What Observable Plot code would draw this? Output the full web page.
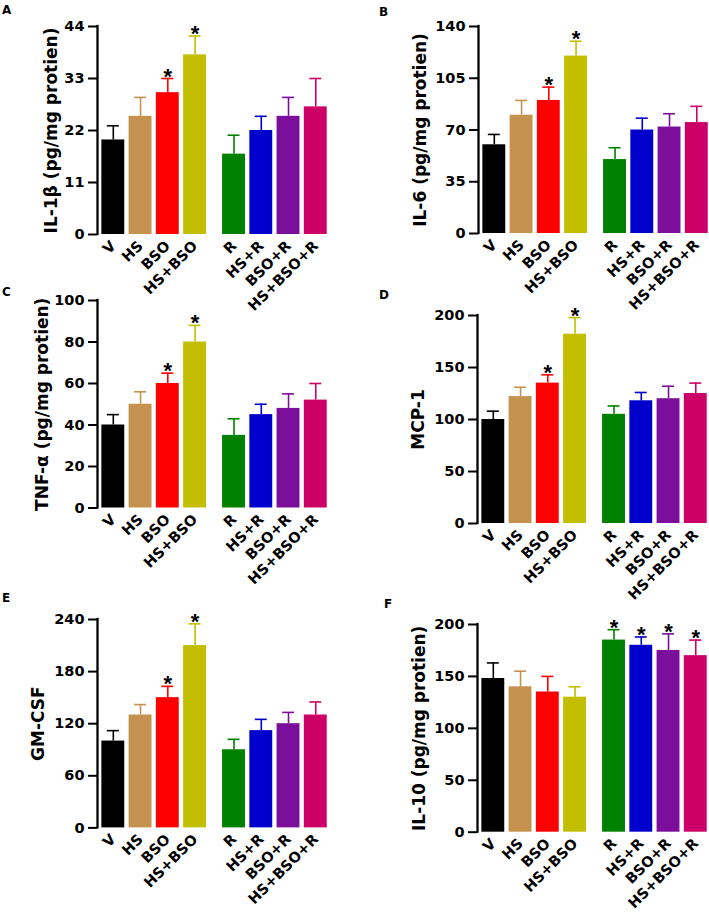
<!DOCTYPE html>
<html>
<head>
<meta charset="utf-8">
<script src="https://cdn.jsdelivr.net/npm/d3@7"></script>
<script src="https://cdn.jsdelivr.net/npm/@observablehq/plot@0.6"></script>
<style>
  body { margin: 0; background: #fff; font-family: "Liberation Sans", Arial, sans-serif; }
  #fig { position: relative; width: 709px; height: 918px; overflow: hidden; background: #fff; }
  .panel { position: absolute; }
  .letter { position: absolute; font-weight: bold; font-size: 12px; line-height: 12px; color: #000; font-family: "DejaVu Sans", sans-serif; }
</style>
</head>
<body>
<div id="fig"></div>
<script>
// ---------- data ----------
const groups = ["V", "HS", "BSO", "HS+BSO", "R", "HS+R", "BSO+R", "HS+BSO+R"];
const colors = ["#000000", "#C4914F", "#FF0000", "#C2BE00", "#008000", "#0000CC", "#7B0E9A", "#CC0066"];

const il1bMean = [20, 25, 30, 38, 17, 22, 25, 27];
const il1bErr  = [3, 4, 3, 4, 4, 3, 4, 6];
const il1bTicks = [0, 11, 22, 33, 44];

const il6Mean = [60, 80, 90, 120, 50, 70, 72, 75];
const il6Err  = [7, 10, 9, 10, 8, 8, 9, 11];
const il6Ticks = [0, 35, 70, 105, 140];

const tnfMean = [40, 50, 60, 80, 35, 45, 48, 52];
const tnfErr  = [5, 6, 5, 8, 8, 5, 7, 8];
const tnfTicks = [0, 20, 40, 60, 80, 100];

const mcpMean = [100, 122, 135, 182, 105, 118, 120, 125];
const mcpErr  = [8, 9, 8, 16, 8, 8, 12, 10];
const mcpTicks = [0, 50, 100, 150, 200];

const gmMean = [100, 130, 150, 210, 90, 112, 120, 130];
const gmErr  = [12, 12, 13, 25, 12, 13, 13, 15];
const gmTicks = [0, 60, 120, 180, 240];

const il10Mean = [148, 140, 135, 130, 185, 180, 175, 170];
const il10Err  = [15, 15, 15, 10, 10, 8, 16, 15];
const il10Ticks = [0, 50, 100, 150, 200];

const sigStress = [false, false, true, true, false, false, false, false];
const sigRescue = [false, false, false, false, true, true, true, true];

const titles = {
  A: "IL-1\u03B2 (pg/mg protien)",
  B: "IL-6 (pg/mg protien)",
  C: "TNF-\u03B1 (pg/mg protien)",
  D: "MCP-1",
  E: "GM-CSF",
  F: "IL-10 (pg/mg protien)"
};

// ---------- layout (styling only) ----------
const GAP = 0.43;          // extra spacing between the two groups, in bar steps
const HALF = 0.42;         // half bar width, in bar steps
const CAP = 0.22;          // half error-cap width
const X_DOMAIN = [-0.58, 7.86];
const PW = 230;            // plot-area width
const W = 354;
const MT = 26, MB = 74;
const FONT = "'DejaVu Sans', 'Liberation Sans', Arial, sans-serif";

const panels = [
  {id: "A", mean: il1bMean, err: il1bErr, ticks: il1bTicks, sig: sigStress, left: 0,   axisX: 97,  yTop: 26,    yZero: 234,   titleX: 56,  lx: 2,   ly: 4},
  {id: "B", mean: il6Mean,  err: il6Err,  ticks: il6Ticks,  sig: sigStress, left: 354, axisX: 478, yTop: 26,    yZero: 233,   titleX: 425, lx: 379, ly: 6},
  {id: "C", mean: tnfMean,  err: tnfErr,  ticks: tnfTicks,  sig: sigStress, left: 0,   axisX: 97,  yTop: 299.5, yZero: 507,   titleX: 47,  lx: 2,   ly: 286},
  {id: "D", mean: mcpMean,  err: mcpErr,  ticks: mcpTicks,  sig: sigStress, left: 354, axisX: 477, yTop: 315.3, yZero: 523.3, titleX: 423, lx: 379, ly: 289},
  {id: "E", mean: gmMean,   err: gmErr,   ticks: gmTicks,   sig: sigStress, left: 0,   axisX: 97,  yTop: 619.3, yZero: 827.7, titleX: 43,  lx: 2,   ly: 592},
  {id: "F", mean: il10Mean, err: il10Err, ticks: il10Ticks, sig: sigRescue, left: 354, axisX: 477, yTop: 624.3, yZero: 832,   titleX: 424, lx: 384, ly: 598}
];

const fig = document.getElementById("fig");

for (const p of panels) {
  const rows = groups.map((g, i) => ({
    label: g,
    pos: i + (i >= 4 ? GAP : 0),
    value: p.mean[i],
    top: p.mean[i] + p.err[i],
    color: colors[i],
    sig: p.sig[i]
  }));
  const plotH = p.yZero - p.yTop;
  const ml = p.axisX - p.left;
  const chart = Plot.plot({
    width: W,
    height: MT + plotH + MB,
    marginLeft: ml,
    marginRight: Math.max(0, W - ml - PW),
    marginTop: MT,
    marginBottom: MB,
    style: {fontFamily: FONT, overflow: "visible", background: "transparent", color: "#000"},
    x: {type: "linear", domain: X_DOMAIN, axis: null},
    y: {domain: [0, p.ticks[p.ticks.length - 1]]},
    color: {type: "identity"},
    marks: [
      Plot.rect(rows, {x1: d => d.pos - HALF, x2: d => d.pos + HALF, y1: 0, y2: "value", fill: "color"}),
      Plot.ruleX(rows, {x: "pos", y1: "value", y2: "top", stroke: "color", strokeWidth: 1.6}),
      Plot.ruleY(rows, {y: "top", x1: d => d.pos - CAP, x2: d => d.pos + CAP, stroke: "color", strokeWidth: 1.6}),
      Plot.text(rows.filter(d => d.sig), {x: "pos", y: "top", text: () => "*", fontSize: 22, fontWeight: "bold", fontFamily: "'Liberation Sans', Arial, sans-serif", lineAnchor: "bottom", dy: 5, fill: "#000"}),
      Plot.axisY({ticks: p.ticks, tickSize: 9, tickPadding: 4, fontSize: 14.5, fontWeight: "bold", strokeWidth: 2, label: null, tickFormat: d => String(d)}),
      Plot.ruleX([X_DOMAIN[0]], {strokeWidth: 2.3, strokeLinecap: "square"}),
      Plot.text(rows, {x: "pos", y: 0, text: "label", rotate: -45, textAnchor: "end", lineAnchor: "middle", dy: 9, fontSize: 14.5, fontWeight: "bold", fill: "#000"}),
      Plot.text([titles[p.id]], {text: d => d, frameAnchor: "left", rotate: -90, textAnchor: "middle", lineAnchor: "bottom", dx: p.titleX - p.axisX, fontSize: 17, fontWeight: "bold", fill: "#000"})
    ]
  });
  chart.classList.add("panel");
  chart.style.left = p.left + "px";
  chart.style.top = (p.yTop - MT) + "px";
  fig.appendChild(chart);

  const letter = document.createElement("div");
  letter.className = "letter";
  letter.textContent = p.id;
  letter.style.left = p.lx + "px";
  letter.style.top = p.ly + "px";
  fig.appendChild(letter);
}
</script>
</body>
</html>
